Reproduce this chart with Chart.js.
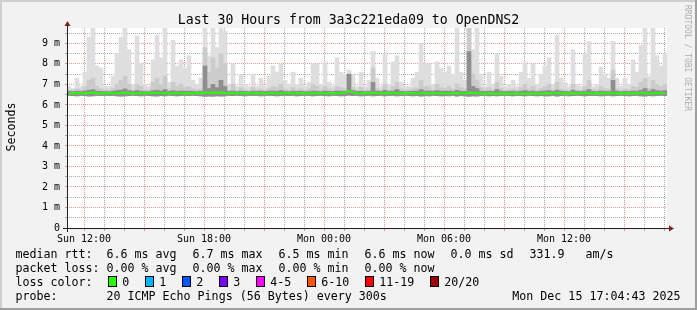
<!DOCTYPE html>
<html><head><meta charset="utf-8">
<script src="https://cdn.jsdelivr.net/npm/chart.js@4/dist/chart.umd.min.js"></script>
<style>html,body{margin:0;padding:0;background:#f2f2f2;}canvas{display:block;}</style>
</head><body>
<canvas id="c" width="697" height="310"></canvas>
<script>
const chartTitle = 'Last 30 Hours from 3a3c221eda09 to OpenDNS2';
const yAxisTitle = 'Seconds';
const watermark = 'RRDTOOL / TOBI OETIKER';
const startHour = 11.15;   // hours since Sun 00:00 at left edge
const spanHours = 30;
const stepHours = 0.2;     // one sample column = 12 min
const xTickLabels = {12:'Sun 12:00', 18:'Sun 18:00', 24:'Mon 00:00', 30:'Mon 06:00', 36:'Mon 12:00'};

const maxRtt = [
6.9,6.8,7.3,6.9,7.6,9.3,9.8,7.9,7.8,6.9,
6.9,7.4,8.5,9.3,9.8,8.7,7.0,9.35,8.0,7.0,
6.9,8.2,9.4,8.3,9.8,7.1,9.15,7.9,8.2,7.8,
8.4,7.2,7.0,7.3,9.8,8.4,9.8,8.8,9.8,9.6,
7.0,8.0,6.9,7.5,7.0,6.9,7.5,6.9,7.3,6.9,
7.4,7.9,7.6,8.0,7.2,7.0,7.6,7.0,7.3,6.9,
7.1,8.0,8.0,7.0,8.1,7.1,6.9,8.3,7.6,7.5,
7.7,7.5,6.9,7.6,6.9,7.2,8.6,7.3,6.9,8.5,
7.0,8.1,8.4,7.1,6.9,6.9,7.3,7.6,9.0,8.0,
8.0,7.0,8.1,7.8,7.6,7.9,7.5,9.8,7.6,7.2,
9.8,8.7,9.8,7.5,6.9,7.6,7.0,8.5,7.4,6.9,
7.0,7.2,6.9,7.6,8.1,7.3,8.0,7.0,7.5,7.9,
8.3,7.0,9.4,7.3,7.1,6.9,8.7,7.0,6.9,8.5,
9.1,6.9,7.0,7.85,7.5,7.3,9.1,7.3,6.9,7.3,
7.0,8.2,7.6,8.9,9.8,7.4,9.8,8.4,7.9,8.5];

const midRtt = [
6.74,6.72,6.78,6.74,6.9,7.2,7.3,6.9,6.78,6.74,
6.72,6.8,7.0,7.2,7.4,7.0,6.74,7.0,6.9,6.74,
6.72,7.1,7.3,7.0,7.4,6.78,7.1,6.9,7.0,6.85,
6.9,6.78,6.74,6.78,8.8,7.6,8.3,7.8,8.5,8.0,
6.74,7.0,6.72,6.85,6.74,6.72,6.85,6.74,6.78,6.72,
6.8,6.9,6.85,7.0,6.78,6.74,6.85,6.74,6.78,6.72,
6.78,7.0,6.9,6.74,6.9,6.78,6.72,6.9,6.85,6.8,
7.5,6.85,6.74,6.85,6.72,6.78,7.8,6.8,6.74,7.0,
6.74,6.9,7.1,6.78,6.72,6.74,6.78,6.85,7.2,6.9,
6.9,6.74,7.0,6.85,6.8,6.9,6.78,7.0,6.85,6.78,
9.8,7.5,7.2,6.85,6.74,6.85,6.74,7.1,6.8,6.72,
6.74,6.78,6.72,6.85,7.0,6.78,6.9,6.74,6.8,6.9,
7.0,6.74,7.1,6.78,6.74,6.72,7.0,6.74,6.72,6.9,
7.2,6.74,6.74,6.9,6.8,6.78,7.7,6.78,6.72,6.78,
6.74,6.9,6.85,7.1,7.3,6.8,7.2,7.0,6.9,7.0];

const darkRtt = [
6.66,6.65,6.67,6.66,6.68,6.72,6.75,6.67,6.66,6.65,
6.65,6.67,6.7,6.72,6.78,6.7,6.66,6.7,6.67,6.65,
6.65,6.7,6.72,6.68,6.75,6.66,6.7,6.67,6.68,6.67,
6.67,6.66,6.65,6.67,7.9,6.8,7.0,6.85,7.2,6.9,
6.66,6.68,6.65,6.67,6.66,6.65,6.67,6.66,6.67,6.65,
6.67,6.68,6.67,6.7,6.66,6.65,6.67,6.66,6.67,6.65,
6.66,6.68,6.67,6.65,6.68,6.66,6.65,6.68,6.67,6.67,
7.5,6.7,6.66,6.67,6.65,6.66,7.1,6.67,6.66,6.72,
6.66,6.68,6.75,6.66,6.65,6.66,6.67,6.68,6.75,6.68,
6.68,6.66,6.7,6.67,6.67,6.68,6.66,6.72,6.67,6.66,
8.6,6.9,6.8,6.67,6.66,6.67,6.66,6.75,6.67,6.65,
6.66,6.67,6.65,6.67,6.7,6.66,6.68,6.65,6.67,6.68,
6.7,6.66,6.72,6.67,6.66,6.65,6.72,6.66,6.65,6.68,
6.75,6.66,6.65,6.68,6.67,6.66,7.2,6.67,6.65,6.67,
6.66,6.68,6.67,6.72,6.8,6.67,6.75,6.7,6.68,6.7];

const minRtt = [
6.46,6.45,6.44,6.46,6.45,6.43,6.44,6.46,6.45,6.46,
6.45,6.46,6.44,6.43,6.44,6.45,6.46,6.45,6.44,6.46,
6.45,6.44,6.43,6.45,6.44,6.46,6.45,6.44,6.45,6.46,
6.45,6.46,6.45,6.44,6.42,6.43,6.42,6.44,6.43,6.44,
6.46,6.45,6.46,6.45,6.44,6.46,6.45,6.46,6.44,6.45,
6.46,6.45,6.44,6.45,6.46,6.45,6.46,6.44,6.45,6.46,
6.45,6.44,6.45,6.46,6.45,6.44,6.46,6.45,6.44,6.45,
6.47,6.45,6.46,6.44,6.45,6.46,6.44,6.45,6.46,6.44,
6.45,6.46,6.44,6.45,6.46,6.45,6.44,6.45,6.43,6.45,
6.44,6.46,6.45,6.44,6.45,6.44,6.46,6.43,6.45,6.44,
6.42,6.44,6.43,6.45,6.46,6.44,6.45,6.44,6.45,6.46,
6.45,6.44,6.46,6.45,6.44,6.46,6.45,6.44,6.45,6.44,
6.44,6.46,6.43,6.45,6.46,6.44,6.45,6.46,6.45,6.44,
6.45,6.46,6.45,6.44,6.45,6.46,6.44,6.45,6.46,6.45,
6.44,6.45,6.46,6.44,6.43,6.45,6.44,6.45,6.46,6.45];

const medianRtt = [
6.57,6.56,6.58,6.57,6.55,6.58,6.60,6.57,6.56,6.57,
6.58,6.57,6.56,6.58,6.59,6.57,6.55,6.57,6.58,6.56,
6.57,6.58,6.59,6.57,6.58,6.56,6.57,6.58,6.57,6.56,
6.57,6.56,6.58,6.57,6.60,6.58,6.61,6.59,6.60,6.58,
6.57,6.58,6.56,6.57,6.58,6.57,6.56,6.58,6.57,6.55,
6.57,6.58,6.57,6.56,6.58,6.57,6.56,6.57,6.58,6.57,
6.56,6.57,6.58,6.57,6.56,6.58,6.57,6.56,6.57,6.58,
6.68,6.60,6.57,6.56,6.58,6.57,6.59,6.57,6.56,6.58,
6.57,6.58,6.57,6.56,6.57,6.58,6.57,6.56,6.58,6.57,
6.56,6.57,6.58,6.57,6.56,6.55,6.57,6.58,6.57,6.56,
6.59,6.58,6.57,6.56,6.55,6.57,6.56,6.55,6.57,6.56,
6.55,6.56,6.57,6.56,6.55,6.56,6.57,6.56,6.55,6.57,
6.56,6.57,6.58,6.56,6.57,6.56,6.57,6.56,6.57,6.58,
6.57,6.56,6.57,6.56,6.57,6.58,6.57,6.56,6.57,6.56,
6.57,6.56,6.57,6.58,6.57,6.56,6.57,6.58,6.57,6.56];

const rttStats = ['6.6 ms avg','6.7 ms max','6.5 ms min','6.6 ms now','0.0 ms sd','331.9   am/s'];
const lossStats = ['0.00 % avg','0.00 % max','0.00 % min','0.00 % now'];
const lossLabels = ['0','1','2','3','4-5','6-10','11-19','20/20'];
const lossColors = ['#26ff00','#00b8ff','#0059ff','#7e00ff','#ff00ff','#ff5500','#ff0000','#a10000'];
const probeText = '20 ICMP Echo Pings (56 Bytes) every 300s';
const dateText = 'Mon Dec 15 17:04:43 2025';

const MONO = '"DejaVu Sans Mono", monospace';
const MGRID = 'rgba(222,79,79,0.6)';
const GRID = 'rgba(143,143,143,0.75)';

const times = medianRtt.map((_, i) => startHour + stepHours * (i + 0.5));
const band = (lo, hi) => hi.map((h, i) => ({x: times[i], y: [lo[i], h]}));
const barOpts = {type: 'bar', grouped: false, barPercentage: 1, categoryPercentage: 1, borderWidth: 0, borderSkipped: false};

const decor = {
  id: 'decor',
  beforeDraw(chart) {
    const c = chart.ctx, a = chart.chartArea, W = chart.width, H = chart.height;
    c.save();
    c.fillStyle = '#f2f2f2'; c.fillRect(0, 0, W, H);
    c.fillStyle = '#cfcfcf'; c.fillRect(0, 0, W, 2); c.fillRect(0, 0, 2, H);
    c.fillStyle = '#9e9e9e'; c.fillRect(0, H - 2, W, 2); c.fillRect(W - 2, 0, 2, H);
    c.fillStyle = '#ffffff'; c.fillRect(a.left, a.top, a.right - a.left, a.bottom - a.top);
    c.restore();
  },
  afterDraw(chart) {
    const c = chart.ctx, a = chart.chartArea;
    c.save();
    c.strokeStyle = '#1f1f1f'; c.lineWidth = 1;
    c.beginPath();
    c.moveTo(a.left - 4, a.bottom + 0.5); c.lineTo(a.right + 4, a.bottom + 0.5);
    c.moveTo(a.left + 0.5, a.bottom + 4); c.lineTo(a.left + 0.5, a.top - 4);
    c.stroke();
    c.fillStyle = '#801f1f';
    c.beginPath();
    c.moveTo(a.right + 2, a.bottom - 2.5); c.lineTo(a.right + 2, a.bottom + 3.5); c.lineTo(a.right + 7, a.bottom + 0.5); c.closePath(); c.fill();
    c.beginPath();
    c.moveTo(a.left - 2.5, a.top - 2); c.lineTo(a.left + 3.5, a.top - 2); c.lineTo(a.left + 0.5, a.top - 7); c.closePath(); c.fill();
    c.fillStyle = '#000';
    c.font = '13.2px ' + MONO;
    c.textAlign = 'center'; c.textBaseline = 'alphabetic';
    c.fillText(chartTitle, 348.5, 24);
    c.font = '11.65px ' + MONO;
    c.save(); c.translate(15, 127); c.rotate(-Math.PI / 2); c.fillText(yAxisTitle, 0, 0); c.restore();
    c.save(); c.fillStyle = 'rgba(0,0,0,0.3)'; c.font = '8px ' + MONO; c.textAlign = 'left';
    c.translate(685, 5); c.rotate(Math.PI / 2); c.fillText(watermark, 0, 0); c.restore();
    c.textAlign = 'left';
    const itemX = [106.5, 192.5, 278.5, 364.5, 450.5, 529.5];
    c.fillText('median rtt:', 15.5, 258);
    rttStats.forEach((t, i) => c.fillText(t, itemX[i], 258));
    c.fillText('packet loss:', 15.5, 272);
    lossStats.forEach((t, i) => c.fillText(t, itemX[i], 272));
    c.fillText('loss color:', 15.5, 286);
    const boxX = [108, 145, 182, 219, 256, 307, 365, 430];
    lossLabels.forEach((t, i) => {
      c.fillStyle = lossColors[i]; c.fillRect(boxX[i], 276, 9, 11);
      c.strokeStyle = '#000'; c.lineWidth = 1; c.strokeRect(boxX[i] + 0.5, 276.5, 8, 10);
      c.fillStyle = '#000'; c.fillText(t, boxX[i] + 14.3, 286);
    });
    c.fillText('probe:', 15.5, 300);
    c.fillText(probeText, itemX[0], 300);
    c.textAlign = 'right';
    c.fillText(dateText, 680.5, 300);
    c.restore();
  }
};

new Chart(document.getElementById('c'), {
  type: 'bar',
  data: {
    datasets: [
      {type: 'line', data: medianRtt.map((v, i) => ({x: times[i], y: v})), borderColor: '#26ff00', borderWidth: 2, pointRadius: 0, tension: 0, order: 0},
      Object.assign({data: band(minRtt, darkRtt), backgroundColor: '#8f8f8f', order: 1}, barOpts),
      Object.assign({data: band(minRtt, midRtt), backgroundColor: '#cbcbcb', order: 2}, barOpts),
      Object.assign({data: band(minRtt, maxRtt), backgroundColor: '#dedede', order: 3}, barOpts)
    ]
  },
  options: {
    responsive: false, animation: false, devicePixelRatio: 1,
    layout: {padding: {left: 0, right: 30, top: 28, bottom: 0}},
    plugins: {legend: {display: false}, tooltip: {enabled: false}, title: {display: false}},
    scales: {
      x: {
        type: 'linear', min: startHour, max: startHour + spanHours, offset: false, z: 1,
        afterBuildTicks: s => { const t = []; for (let h = Math.ceil(startHour); h <= startHour + spanHours; h++) t.push({value: h}); s.ticks = t; },
        afterFit: s => { s.height = 82; },
        grid: {offset: false, lineWidth: 1, tickLength: 3, tickBorderDash: [],
          color: ctx => (ctx.tick && ctx.tick.value % 3 === 0) ? MGRID : GRID,
          tickColor: ctx => (ctx.tick && ctx.tick.value % 3 === 0) ? MGRID : GRID},
        border: {display: false, dash: [1, 1]},
        ticks: {autoSkip: false, maxRotation: 0, minRotation: 0, padding: 2, color: '#000', font: {family: MONO, size: 10},
          callback: v => xTickLabels[v] || ''}
      },
      y: {
        type: 'linear', min: 0, max: 9.75, z: 1,
        afterBuildTicks: s => { const t = []; for (let k = 0; k <= 19; k++) t.push({value: k / 2}); s.ticks = t; },
        afterFit: s => { s.width = 67; },
        grid: {lineWidth: 1, tickLength: 2, tickBorderDash: [],
          color: ctx => (ctx.tick && Number.isInteger(ctx.tick.value)) ? MGRID : GRID,
          tickColor: ctx => (ctx.tick && Number.isInteger(ctx.tick.value)) ? MGRID : GRID},
        border: {display: false, dash: [1, 1]},
        ticks: {autoSkip: false, padding: 5, color: '#000', font: {family: MONO, size: 10},
          callback: v => Number.isInteger(v) ? (v === 0 ? '0' : v + ' m') : ''}
      }
    }
  },
  plugins: [decor]
});
</script>
</body></html>
